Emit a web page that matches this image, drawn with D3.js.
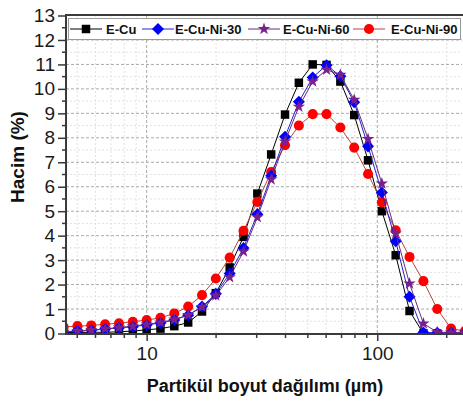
<!DOCTYPE html>
<html>
<head>
<meta charset="utf-8">
<script src="https://cdn.jsdelivr.net/npm/d3@7"></script>
<style>
  body { margin: 0; background: #fff; }
  svg { display: block; font-family: Arial, "Liberation Sans", sans-serif; }
</style>
</head>
<body>
<script>
// particle size classes (um), log spaced
var sizes = [4.365, 5.012, 5.754, 6.607, 7.586, 8.710, 10.00, 11.48, 13.18, 15.14,
             17.38, 19.95, 22.91, 26.30, 30.20, 34.67, 39.81, 45.71, 52.48, 60.26,
             69.18, 79.43, 91.20, 104.7, 120.2, 138.0, 158.5, 182.0, 208.9, 239.9];

var eCu = [0.04, 0.04, 0.05, 0.05, 0.07, 0.10, 0.15, 0.20, 0.30, 0.45,
           0.90, 1.65, 2.70, 3.95, 5.72, 7.32, 8.95, 10.25, 11.00, 10.98,
           10.30, 8.93, 7.08, 5.00, 3.20, 0.92, 0, 0, 0, 0];
var eCuNi30 = [0.07, 0.10, 0.13, 0.18, 0.23, 0.28, 0.35, 0.43, 0.55, 0.75,
               1.10, 1.62, 2.45, 3.50, 4.88, 6.45, 8.04, 9.47, 10.47, 10.97,
               10.52, 9.45, 7.65, 5.76, 3.77, 1.50, 0.04, 0.03, 0.03, 0.03];
var eCuNi60 = [0.07, 0.10, 0.14, 0.19, 0.24, 0.30, 0.37, 0.45, 0.57, 0.76,
               1.08, 1.55, 2.30, 3.35, 4.75, 6.30, 7.85, 9.27, 10.30, 10.78,
               10.58, 9.55, 7.95, 6.13, 4.09, 2.04, 0.41, 0.05, 0.05, 0.05];
var eCuNi90 = [0.27, 0.30, 0.33, 0.38, 0.42, 0.48, 0.55, 0.64, 0.82, 1.10,
               1.57, 2.25, 3.10, 4.20, 5.38, 6.60, 7.70, 8.50, 8.97, 8.97,
               8.42, 7.60, 6.52, 5.36, 4.22, 3.13, 2.14, 1.00, 0.20, 0.10];

var seriesNames = ["E-Cu", "E-Cu-Ni-30", "E-Cu-Ni-60", "E-Cu-Ni-90"];
var yTicks = [0, 1, 2, 3, 4, 5, 6, 7, 8, 9, 10, 11, 12, 13];
var xTicks = [10, 100];
var xMinor = [5, 6, 7, 8, 9, 20, 30, 40, 50, 60, 70, 80, 90, 200];

// ================= script =============== //
var svgWidth = 463, svgHeight = 401;
var plotL = 66, plotR = 462, plotT = 15, plotB = 334;

var svg = d3.select("body").append("svg")
    .attr("width", svgWidth)
    .attr("height", svgHeight);

var x = d3.scaleLog().domain([4.47, 233]).range([plotL, plotR]);
var y = d3.scaleLinear().domain([0, 13]).range([plotB - 0.5, plotT + 0.5]);

// grid
var grid = svg.append("g");
d3.range(0.5, 13, 1).forEach(function(v) {
  grid.append("line")
    .attr("x1", plotL).attr("x2", plotR)
    .attr("y1", y(v)).attr("y2", y(v))
    .attr("stroke", "#e2e2e2").attr("stroke-width", 1)
    .attr("stroke-dasharray", "2,2");
});
xMinor.forEach(function(v) {
  grid.append("line")
    .attr("x1", x(v)).attr("x2", x(v))
    .attr("y1", plotT).attr("y2", plotB)
    .attr("stroke", "#e2e2e2").attr("stroke-width", 1)
    .attr("stroke-dasharray", "2,2");
});
yTicks.slice(1, 13).forEach(function(v) {
  grid.append("line")
    .attr("x1", plotL).attr("x2", plotR)
    .attr("y1", y(v)).attr("y2", y(v))
    .attr("stroke", "#aaa").attr("stroke-width", 1)
    .attr("stroke-dasharray", "3,2");
});
xTicks.forEach(function(v) {
  grid.append("line")
    .attr("x1", x(v)).attr("x2", x(v))
    .attr("y1", plotT).attr("y2", plotB)
    .attr("stroke", "#aaa").attr("stroke-width", 1)
    .attr("stroke-dasharray", "3,2");
});

// clip for the data
svg.append("clipPath").attr("id", "plotclip")
  .append("rect")
  .attr("x", plotL).attr("y", plotT - 10)
  .attr("width", plotR - plotL + 10).attr("height", plotB - plotT + 10);

var styles = [
  {data: eCu, color: "#000000", line: "#000000", symbol: d3.symbolSquare, size: 72},
  {data: eCuNi30, color: "#0000ff", line: "#2222cc", symbol: d3.symbolDiamond2, size: 92},
  {data: eCuNi60, color: "#7a1f8e", line: "#6a2a7e", symbol: d3.symbolStar, size: 48},
  {data: eCuNi90, color: "#ff0000", line: "#b5473a", symbol: d3.symbolCircle, size: 80}
];

var lineGen = d3.line()
  .x(function(d, i) { return x(sizes[i]); })
  .y(function(d) { return y(d); });

var plot = svg.append("g").attr("clip-path", "url(#plotclip)");
// drawing order: E-Cu, Ni-90, Ni-30, Ni-60
[0, 3, 1, 2].forEach(function(si) {
  var s = styles[si];
  var g = plot.append("g");
  g.append("path")
    .attr("d", lineGen(s.data))
    .attr("fill", "none")
    .attr("stroke", s.line)
    .attr("stroke-width", 1);
  g.selectAll("path.pt")
    .data(s.data)
    .enter().append("path")
    .attr("class", "pt")
    .attr("d", d3.symbol().type(s.symbol).size(s.size))
    .attr("transform", function(d, i) { return "translate(" + x(sizes[i]) + "," + y(d) + ")"; })
    .attr("fill", s.color);
});

// axes
var axisColor = "#3a3a3a";
var yAxis = svg.append("g")
  .attr("transform", "translate(" + plotL + ",0)")
  .call(d3.axisLeft(y).tickValues(yTicks).tickSize(8).tickPadding(3).tickFormat(d3.format("d")));
yAxis.select(".domain").remove();
yAxis.selectAll(".tick line").attr("stroke", axisColor).attr("stroke-width", 1.5);
yAxis.selectAll(".tick text").attr("font-size", 19).attr("fill", "#1a1a1a")
  .attr("font-family", "Arial, 'Liberation Sans', sans-serif");
d3.range(0.5, 13, 1).forEach(function(v) {
  yAxis.append("line").attr("x1", -4).attr("x2", 0).attr("y1", y(v)).attr("y2", y(v))
    .attr("stroke", axisColor).attr("stroke-width", 1.5);
});

var xAxis = svg.append("g")
  .attr("transform", "translate(0," + plotB + ")")
  .call(d3.axisBottom(x).tickValues(xTicks).tickSize(7).tickPadding(6).tickFormat(d3.format("d")));
xAxis.select(".domain").remove();
xAxis.selectAll(".tick line").attr("stroke", axisColor).attr("stroke-width", 1.5);
xAxis.selectAll(".tick text").attr("font-size", 19).attr("fill", "#1a1a1a")
  .attr("font-family", "Arial, 'Liberation Sans', sans-serif");
xMinor.forEach(function(v) {
  xAxis.append("line").attr("x1", x(v)).attr("x2", x(v)).attr("y1", 0).attr("y2", 4)
    .attr("stroke", axisColor).attr("stroke-width", 1.5);
});

// frame
svg.append("rect")
  .attr("x", plotL).attr("y", plotT)
  .attr("width", plotR - plotL + 4).attr("height", plotB - plotT)
  .attr("fill", "none").attr("stroke", axisColor).attr("stroke-width", 2);

// legend
var legend = svg.append("g");
legend.append("rect")
  .attr("x", 68.5).attr("y", 18.5).attr("width", 392).attr("height", 21)
  .attr("fill", "#fff").attr("stroke", "#999").attr("stroke-width", 1);
var legX = [70, 142, 248, 353];
var textX = [106, 175, 283, 391];
styles.forEach(function(s, i) {
  legend.append("line")
    .attr("x1", legX[i]).attr("x2", legX[i] + 32)
    .attr("y1", 29).attr("y2", 29)
    .attr("stroke", s.line).attr("stroke-width", 1);
  legend.append("path")
    .attr("d", d3.symbol().type(s.symbol).size(s.size))
    .attr("transform", "translate(" + (legX[i] + 16) + ",29)")
    .attr("fill", s.color);
  legend.append("text")
    .attr("x", textX[i]).attr("y", 34)
    .attr("font-size", 13).attr("font-weight", "bold")
    .attr("fill", "#111")
    .text(seriesNames[i]);
});

// axis titles
svg.append("text")
  .attr("transform", "translate(24,157) rotate(-90)")
  .attr("text-anchor", "middle")
  .attr("font-size", 19).attr("font-weight", "bold")
  .attr("fill", "#111")
  .text("Hacim (%)");
svg.append("text")
  .attr("x", 265).attr("y", 392)
  .attr("text-anchor", "middle")
  .attr("font-size", 18).attr("font-weight", "bold")
  .attr("fill", "#111")
  .text("Partikül boyut dağılımı (µm)");
</script>
</body>
</html>
